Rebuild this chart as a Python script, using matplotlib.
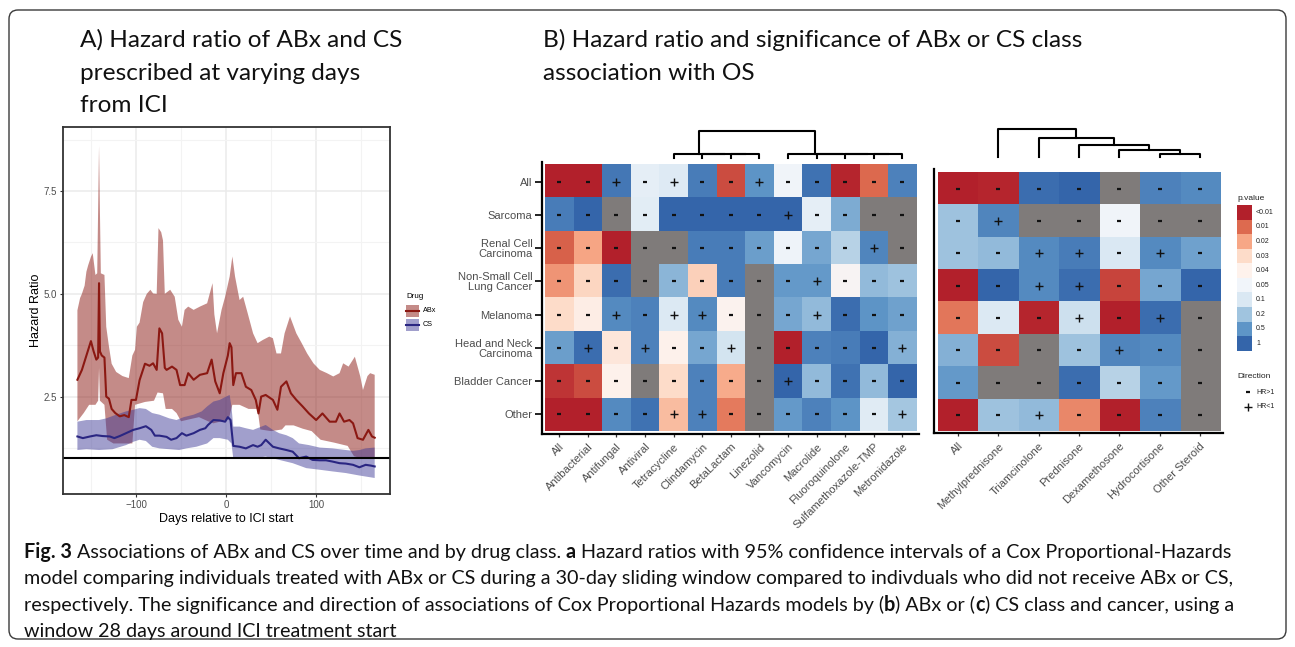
import numpy as np
import matplotlib
matplotlib.use("Agg")
import matplotlib.pyplot as plt
from matplotlib.colors import LinearSegmentedColormap
from matplotlib.patches import FancyBboxPatch, Rectangle

W, H = 1295, 647
plt.rcParams['font.family'] = ['Liberation Sans', 'DejaVu Sans']
HEAD_FONT = ['Lato', 'DejaVu Sans']

#---------------------------------------------------------------------------
# panel A : hazard ratio over sliding window
abx_days = [-165,-160,-155,-150,-147,-144,-142,-141,-140,-138,-135,-133,-130,-127,-123,-118,-113,-108,-105,-100,
            -96,-90,-85,-81,-77,-74,-71,-68,-66,-60,-55,-51,-46,-42,-36,-29,-21,-16,-12,-7,
            -3,2,4,6,8,11,17,22,28,33,36,39,44,52,57,61,67,72,78,85,
            92,100,107,115,122,126,131,137,141,146,152,158,162,165]
abx_hr = [2.91,3.15,3.5,3.85,3.6,3.4,3.45,5.26,3.6,3.5,3.45,2.5,2.45,2.2,2.1,2.02,2.05,2.0,2.42,2.42,
          2.9,3.3,3.25,3.31,3.15,4.16,4.04,3.2,3.15,3.23,3.15,2.78,2.78,3.07,2.91,3.03,3.07,3.4,2.87,2.58,
          3.07,3.5,3.8,3.7,2.78,3.07,3.07,2.74,2.66,2.42,2.09,2.5,2.54,2.42,2.18,2.74,2.87,2.58,2.42,2.26,
          2.09,1.93,2.09,1.89,1.89,2.09,1.89,1.93,1.85,1.49,1.45,1.69,1.53,1.5]
abx_hi_days = [-165,-162,-160,-157,-155,-153,-150,-148,-145,-143,-141,-140,-139,-135,-133,-130,-127,-122,-115,-108,
               -104,-101,-99,-96,-92,-88,-84,-81,-77,-75,-72,-70,-68,-62,-57,-53,-49,-46,-42,-36,
               -29,-21,-15,-13,-10,-5,-1,4,7,10,15,19,24,30,35,41,48,52,56,61,
               65,71,78,84,90,97,104,112,119,126,130,136,143,149,152,157,160,165]
abx_hi = [4.6,4.9,5.0,5.2,5.54,5.7,5.9,5.99,5.46,5.5,8.6,7.0,5.5,5.46,4.2,3.72,3.3,3.1,3.0,2.95,
          3.5,3.64,4.2,4.3,4.8,5.0,5.1,5.01,5.0,6.6,6.5,6.3,5.0,5.1,4.93,4.37,4.2,4.61,4.69,4.61,
          4.69,4.77,5.26,4.5,4.04,4.61,4.93,5.42,5.91,5.42,4.85,4.93,4.53,4.04,3.8,3.88,3.96,3.92,3.55,3.55,
          4.04,4.45,4.04,3.8,3.55,3.31,3.15,3.07,2.99,3.07,3.31,3.23,3.47,2.99,2.66,3.0,3.07,3.03]
abx_lo_days = [-165,-158,-152,-145,-142,-141,-140,-135,-132,-125,-115,-104,-101,-90,-80,-76,-70,-67,-60,-55,
               -50,-40,-30,-20,-14,-5,3,7,15,25,35,38,50,62,66,75,85,95,105,120,
               135,142,150,160,165]
abx_lo = [1.9,2.1,2.3,2.3,2.4,3.2,2.4,2.3,1.45,1.36,1.36,1.36,2.3,2.37,2.4,2.6,2.58,2.2,2.2,2.1,
          1.9,1.95,2.0,1.9,1.85,1.9,1.95,2.3,2.3,2.2,2.2,1.7,1.66,1.7,1.8,1.8,1.72,1.66,1.45,1.38,
          1.3,1.05,1.0,0.98,1.0]

cs_days = [-165,-159,-151,-144,-137,-129,-124,-118,-111,-103,-96,-89,-83,-79,-74,-66,-61,-55,-49,-44,
           -36,-29,-23,-20,-14,-7,-1,2,5,8,15,22,30,35,39,44,52,59,67,74,
           81,89,96,104,111,118,126,133,141,148,155,161,165]
cs_hr = [1.53,1.49,1.53,1.56,1.54,1.53,1.49,1.54,1.61,1.69,1.73,1.78,1.69,1.55,1.55,1.52,1.45,1.49,1.61,1.55,
         1.61,1.69,1.73,1.81,1.93,1.92,1.89,2.0,1.93,1.3,1.28,1.24,1.32,1.28,1.32,1.45,1.28,1.24,1.2,1.16,
         1.0,1.04,0.96,0.95,0.95,0.92,0.88,0.87,0.84,0.78,0.84,0.82,0.8]
cs_hi_days = [-165,-155,-141,-133,-122,-111,-103,-96,-89,-82,-74,-63,-55,-47,-36,-27,-21,-14,-7,0,
              4,6,8,15,22,30,37,44,52,59,67,74,81,92,104,118,133,141,148,155,165]
cs_hi = [1.89,1.93,1.93,1.97,2.06,2.14,2.18,2.22,2.2,2.1,2.06,1.97,1.93,2.0,2.06,2.14,2.26,2.38,2.42,2.5,
         2.54,2.26,1.77,1.77,1.73,1.69,1.75,1.81,1.69,1.61,1.56,1.49,1.36,1.32,1.26,1.24,1.2,1.18,1.2,1.24,1.26]
cs_lo_days = [-165,-155,-141,-126,-111,-103,-96,-89,-82,-74,-63,-52,-44,-33,-21,-14,-7,2,6,8,
              15,30,44,59,74,89,104,118,133,148,165]
cs_lo = [1.2,1.22,1.2,1.22,1.32,1.4,1.45,1.42,1.28,1.24,1.22,1.2,1.24,1.28,1.36,1.49,1.49,1.45,1.36,1.0,
         1.0,1.0,1.04,0.96,0.88,0.76,0.72,0.68,0.64,0.58,0.52]

#---------------------------------------------------------------------------
# panels B / C : p values (nan = not estimable) and direction of association
cancers = ['All', 'Sarcoma', 'Renal Cell\nCarcinoma', 'Non-Small Cell\nLung Cancer', 'Melanoma',
           'Head and Neck\nCarcinoma', 'Bladder Cancer', 'Other']
abx_classes = ['All', 'Antibacterial', 'Antifungal', 'Antiviral', 'Tetracycline', 'Clindamycin', 'BetaLactam',
               'Linezolid', 'Vancomycin', 'Macrolide', 'Fluoroquinolone', 'Sulfamethoxazole-TMP', 'Metronidazole']
cs_classes = ['All', 'Methylprednisone', 'Triamcinolone', 'Prednisone', 'Dexamethosone', 'Hydrocortisone',
              'Other Steroid']
nan = np.nan
abx_p = [
    [0.005, 0.005, 0.8, 0.075, 0.09, 0.75, 0.008, 0.5, 0.05, 0.85, 0.0055, 0.01, 0.7],
    [0.75, 1.0, nan, 0.08, 1.0, 1.0, 1.0, 1.0, 1.0, 0.075, 0.35, nan, nan],
    [0.0095, 0.02, 0.005, nan, nan, 0.75, 0.75, 0.44, 0.055, 0.38, 0.16, 0.65, nan],
    [0.017, 0.029, 0.9, nan, 0.29, 0.028, 0.75, nan, 0.47, 0.47, 0.045, 0.26, 0.2],
    [0.03, 0.038, 0.6, 0.7, 0.095, 0.6, 0.042, nan, 0.38, 0.26, 0.9, 0.5, 0.41],
    [0.44, 0.9, 0.035, 0.7, 0.04, 0.38, 0.11, nan, 0.005, 0.7, 0.75, 1.0, 0.32],
    [0.0065, 0.008, 0.04, nan, 0.03, 0.7, 0.021, nan, 1.0, 0.26, 0.85, 0.26, 1.0],
    [0.005, 0.005, 0.6, 0.85, 0.024, 0.7, 0.013, nan, 0.47, 0.7, 0.5, 0.085, 0.19],
]
abx_dir = ['--+-+--+-----',
           '--------+----',
           '-----------+-',
           '---------+---',
           '--+-++---+---',
           '-+-+--+-----+',
           '--------+----',
           '----++------+']
cs_p = [
    [0.005, 0.0055, 0.9, 1.0, nan, 0.7, 0.6],
    [0.2, 0.65, nan, nan, 0.05, nan, nan],
    [0.2, 0.26, 0.6, 0.75, 0.1, 0.6, 0.41],
    [0.005, 1.0, 0.6, 0.9, 0.0075, 0.38, 1.0],
    [0.012, 0.095, 0.0055, 0.12, 0.005, 0.9, nan],
    [0.32, 0.008, nan, 0.2, 0.65, 0.6, nan],
    [0.47, nan, nan, 0.9, 0.16, 0.47, nan],
    [0.005, 0.2, 0.26, 0.015, 0.005, 0.7, nan],
]
cs_dir = ['-------',
          '-+-----',
          '--++-+-',
          '--++---',
          '---+-+-',
          '----+--',
          '-------',
          '--+----']

# dendrograms: leaf = column index, node = [height, left, right]
abx_tree = [27.3, [4, 4, [4, 5, [4, 6, 7]]], [4, 8, [4, 9, [4, 10, [4, 11, 12]]]]]
cs_tree = [27.4, 1, [18.4, 2, [11.7, 3, [6.7, 4, [2.7, 5, 6]]]]]

p_breaks = [0.005, 0.01, 0.02, 0.03, 0.04, 0.05, 0.1, 0.2, 0.5, 1.0]
p_labels = ['<0.01', '0.01', '0.02', '0.03', '0.04', '0.05', '0.1', '0.2', '0.5', '1']
p_colors = ['#B2202B', '#DD6A4F', '#F7A786', '#FDDCC9', '#FEF2EC', '#F1F5FA', '#DAE8F3', '#A0C4DF',
            '#5E95C7', '#3465AA']
NA_COL = '#7F7B7A'
RED = '#8B1812'
BLUE = '#2A2682'
BLUE_FILL = '#3B3795'
GREY30 = '#4D4D4D'

fig = plt.figure(figsize=(W / 100, H / 100), dpi=100)

def px_axes(x0, y0, x1, y1):
    return fig.add_axes([x0 / W, 1 - y1 / H, (x1 - x0) / W, (y1 - y0) / H])

over = px_axes(0, 0, W, H)
over.set_xlim(0, W)
over.set_ylim(H, 0)
over.axis('off')
over.add_patch(FancyBboxPatch((9, 10), 1277, 629, boxstyle='round,pad=0,rounding_size=9',
                              fill=False, edgecolor='#3a3a3a', lw=1.0))

#---------------------------------------------------------------------------
# panel A
ax = px_axes(63, 127, 390, 494)
ax.fill(np.r_[abx_hi_days, abx_lo_days[::-1]], np.r_[abx_hi, abx_lo[::-1]], color=RED, alpha=0.5, lw=0)
ax.fill(np.r_[cs_hi_days, cs_lo_days[::-1]], np.r_[cs_hi, cs_lo[::-1]], color=BLUE_FILL, alpha=0.48, lw=0)
ax.plot(abx_days, abx_hr, color=RED, lw=1.5)
ax.plot(cs_days, cs_hr, color=BLUE, lw=1.5)
ax.axhline(1, color='black', lw=1.5)
ax.set_xlim(-181, 182)
ax.set_ylim(0.13, 9.06)
ax.set_xticks([-100, 0, 100])
ax.set_yticks([2.5, 5.0, 7.5])
ax.set_xticks([-150, -50, 50, 150], minor=True)
ax.set_yticks([1.25, 3.75, 6.25, 8.75], minor=True)
ax.grid(which='major', color='#EBEBEB', lw=1.1)
ax.grid(which='minor', color='#F3F3F3', lw=0.8)
ax.set_axisbelow(True)
ax.tick_params(which='minor', length=0)
ax.tick_params(which='major', length=2.5, width=0.8, color='#333333', labelsize=7, labelcolor=GREY30, pad=2)
for s in ax.spines.values():
    s.set_color('#333333')
    s.set_linewidth(1.3)
ax.set_xlabel('Days relative to ICI start', fontsize=9, labelpad=2)
ax.set_ylabel('Hazard Ratio', fontsize=9, labelpad=1)

# Drug legend
over.text(406, 296, 'Drug', fontsize=5.8, va='center')
for k, (lab, fc, lc, a) in enumerate([('ABx', RED, RED, 0.5), ('CS', BLUE_FILL, BLUE, 0.48)]):
    y0 = 305 + 14 * k
    over.add_patch(Rectangle((406, y0), 13, 12, facecolor=fc, alpha=a, lw=0))
    over.plot([406, 419], [y0 + 6, y0 + 6], color=lc, lw=1.5)
    over.text(423, y0 + 6, lab, fontsize=5.2, va='center')

#---------------------------------------------------------------------------
# heatmaps
cmap = LinearSegmentedColormap.from_list('pval', p_colors, N=256)
cmap.set_bad(NA_COL)

def p_level(p):
    p = np.array(p, dtype=float)
    lev = np.interp(np.nan_to_num(p, nan=1.0), p_breaks, np.arange(len(p_breaks)))
    return np.ma.masked_where(np.isnan(p), lev)

def draw_tree(dax, node):
    if isinstance(node, int):
        return node + 0.5, 0.0
    h, left, right = node
    xl, hl = draw_tree(dax, left)
    xr, hr = draw_tree(dax, right)
    dax.plot([xl, xl, xr, xr], [hl, h, h, hr], color='black', lw=1.5, solid_capstyle='projecting',
             clip_on=False)
    return (xl + xr) / 2, h

def heatmap(box, xlim, ylim, pvals, dirs, cols, rows, tree, tree_box):
    hax = px_axes(*box)
    lev = p_level(pvals)
    nr, nc = lev.shape
    hax.imshow(lev, cmap=cmap, vmin=0, vmax=len(p_breaks) - 1, extent=(0, nc, nr, 0),
               aspect='auto', interpolation='nearest')
    for i in range(nr):
        for j in range(nc):
            if dirs[i][j] == '+':
                hax.plot(j + 0.5, i + 0.5, marker='+', ms=5.5, mew=1.0, color='#111111')
            else:
                hax.plot(j + 0.5, i + 0.5, marker='_', ms=3.2, mew=1.6, color='#111111')
    hax.set_xlim(*xlim)
    hax.set_ylim(*ylim)
    for s in ['top', 'right']:
        hax.spines[s].set_visible(False)
    for s in ['left', 'bottom']:
        hax.spines[s].set_linewidth(1.6)
        hax.spines[s].set_color('black')
    hax.set_xticks(np.arange(nc) + 0.5)
    hax.set_xticklabels(cols, rotation=45, ha='right', va='top', rotation_mode='anchor',
                        fontsize=8, color=GREY30)
    hax.tick_params(axis='x', length=2.5, width=0.9, color='#333333', pad=3)
    if rows is not None:
        hax.set_yticks(np.arange(nr) + 0.5)
        hax.set_yticklabels(rows, fontsize=8, color=GREY30, linespacing=1.0)
        hax.tick_params(axis='y', length=5, width=1.4, color='#222222', pad=2)
    else:
        hax.set_yticks([])
    dax = px_axes(*tree_box)
    dax.set_xlim(*xlim)
    dax.set_ylim(0, tree[0])
    dax.axis('off')
    draw_tree(dax, tree)
    return hax

heatmap((542, 162, 919, 434), (-0.105, 13.08), (8.09, -0.09), abx_p, abx_dir, abx_classes, cancers,
        abx_tree, (542, 131, 919, 158.3))
heatmap((934, 169, 1223, 433.3), (-0.092, 7.074), (8.071, -0.115), cs_p, cs_dir, cs_classes, None,
        cs_tree, (934, 129.3, 1223, 156.7))

# p value / direction legend
over.text(1237, 199, 'p.value', fontsize=6, va='center', color='#222222')
for k, (lab, col) in enumerate(zip(p_labels, p_colors)):
    y0 = 205 + 14.57 * k
    over.add_patch(Rectangle((1237, y0), 15, 14.57, facecolor=col, lw=0))
    over.text(1256, y0 + 7.3, lab, fontsize=5, va='center', color='#222222')
over.text(1237, 376, 'Direction', fontsize=6, va='center', color='#222222')
over.plot(1248, 392, marker='_', ms=3.2, mew=1.6, color='#111111')
over.plot(1248, 407, marker='+', ms=5.5, mew=1.0, color='#111111')
over.text(1256, 392, 'HR>1', fontsize=5, va='center', color='#222222')
over.text(1256, 407, 'HR<1', fontsize=5, va='center', color='#222222')

#---------------------------------------------------------------------------
# titles and caption
for k, line in enumerate(['A) Hazard ratio of ABx and CS', 'prescribed at varying days', 'from ICI']):
    over.text(80, 47 + 32.5 * k, line, fontsize=17.6, family=HEAD_FONT, va='baseline', color='#111111')
for k, line in enumerate(['B) Hazard ratio and significance of ABx or CS class', 'association with OS']):
    over.text(543, 47 + 32.5 * k, line, fontsize=17.6, family=HEAD_FONT, va='baseline', color='#111111')

renderer = fig.canvas.get_renderer()

def seg_width(txt, bold, size):
    w = []
    for s in ['|' + txt + '|', '||']:
        t = over.text(0, 0, s, fontsize=size, family=HEAD_FONT, fontweight='bold' if bold else 'normal')
        w.append(t.get_window_extent(renderer=renderer).width)
        t.remove()
    return w[0] - w[1]

def rich_line(x, y, parts, size=14.2):
    for txt, bold in parts:
        over.text(x, y, txt, fontsize=size, family=HEAD_FONT, va='baseline', color='#111111',
                  fontweight='bold' if bold else 'normal')
        x += seg_width(txt, bold, size)

caption = [
    [('Fig. 3', True), (' Associations of ABx and CS over time and by drug class. ', False), ('a', True),
     (' Hazard ratios with 95% confidence intervals of a Cox Proportional-Hazards', False)],
    [('model comparing individuals treated with ABx or CS during a 30-day sliding window compared to '
      'indivduals who did not receive ABx or CS,', False)],
    [('respectively. The significance and direction of associations of Cox Proportional Hazards models by (',
      False), ('b', True), (') ABx or (', False), ('c', True), (') CS class and cancer, using a', False)],
    [('window 28 days around ICI treatment start', False)],
]
for k, parts in enumerate(caption):
    rich_line(24, 558 + 26.3 * k, parts)

fig.savefig('out.png', dpi=100)
